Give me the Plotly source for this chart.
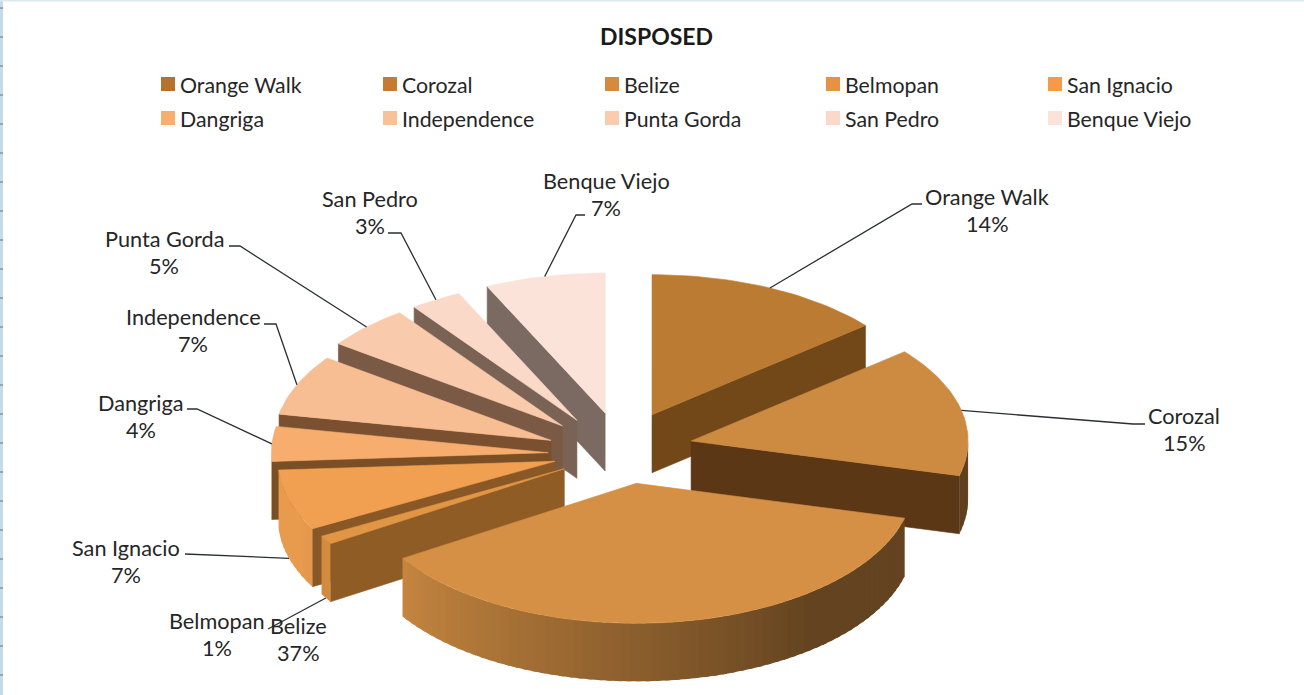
import math
import plotly.graph_objects as go

# ---- data ----
cities = ["Orange Walk", "Corozal", "Belize", "Belmopan", "San Ignacio",
          "Dangriga", "Independence", "Punta Gorda", "San Pedro", "Benque Viejo"]
shares = [14, 15, 37, 1, 7, 4, 7, 5, 3, 7]

# ---- style ----
top_colors = ["#BC7B33", "#CC8B41", "#D59045", "#E09645", "#F0A050",
              "#F6AD6E", "#F8BE93", "#F9CBAC", "#FBD9C8", "#FCE3DA"]
key_colors = ["#B5722D", "#C67B32", "#D68A3F", "#E59343", "#F59B47",
              "#F8AE6E", "#F9C197", "#FACBAE", "#FBD9C8", "#FCE3DA"]
side_colors = ["#724819", "#5C3715", "#6B4318", "#8F5C25", "#8A5826",
               "#7A4F25", "#7A5030", "#7A5A45", "#7A6355", "#7B6A62"]
draw_order = [9, 8, 7, 6, 5, 0, 1, 4, 3, 2]

W, H = 1304, 695
CX, CY = 620, 449
RX, RY = 277, 140
DEPTH = 58
EXPLODE = 0.263
TXT = "#262626"
FONT = "Lato"

# layout: small per-slice view corrections of the explosion (perspective of the original)
view_shift = [(1, -1), (0, 0), (5, -2), (7, 1), (5, 2), (1, 6), (-2, 6), (-6, 3), (-6, 3), (1, 0)]

# label placement: (centre x, first-line y), elbow path from the label
label_pos = [(987, 197), (1184, 416), (298, 626), (217, 621), (126, 548),
             (141, 403), (193, 317), (164, 239), (370, 199), (606, 181)]
leader_end = [[(912, 204), (922, 204)], [(1133, 424), (1145, 424)], None,
              [(268, 629)], [(185, 554)], [(197, 409), (187, 409)],
              [(276, 324), (264, 324)], [(240, 246), (229, 246)],
              [(401, 233), (388, 233)], [(576, 215), (585, 215)]]
key_cols = [161, 383, 605, 826, 1048]
key_rows = [84, 118]


def blend(hex_color, f):
    r, g, b = (int(hex_color[i:i + 2], 16) for i in (1, 3, 5))
    return "rgb(%d,%d,%d)" % (r * f, g * f, b * f)


def rim(apex, deg):
    a = math.radians(deg)
    return apex[0] + RX * math.sin(a), apex[1] - RY * math.cos(a)


def poly(fig, pts, color, edge=0.6):
    fig.add_trace(go.Scatter(
        x=[p[0] for p in pts] + [pts[0][0]], y=[p[1] for p in pts] + [pts[0][1]],
        mode="lines", fill="toself", fillcolor=color,
        line=dict(color=color, width=edge), hoverinfo="skip", showlegend=False))


def wall_shade(deg):
    if deg <= 140:
        return 0.47
    return min(0.97, 0.47 + 0.5 * (deg - 140) / 105)


# angles come from the shares
total = sum(shares)
bounds = [0.0]
for v in shares:
    bounds.append(bounds[-1] + 360.0 * v / total)

apexes = []
for i in range(len(shares)):
    m = math.radians((bounds[i] + bounds[i + 1]) / 2)
    apexes.append((CX + EXPLODE * RX * math.sin(m) + view_shift[i][0],
                   CY - EXPLODE * RY * math.cos(m) + view_shift[i][1]))

fig = go.Figure()

for i in draw_order:
    a0, a1 = bounds[i], bounds[i + 1]
    apex = apexes[i]
    down = (apex[0], apex[1] + DEPTH)
    # flat side walls facing the viewer
    if 0 < a1 < 180:
        c = rim(apex, a1)
        poly(fig, [apex, c, (c[0], c[1] + DEPTH), down], side_colors[i])
    if 180 < a0 < 360:
        c = rim(apex, a0)
        poly(fig, [apex, c, (c[0], c[1] + DEPTH), down], side_colors[i])
    # curved outer wall, shaded from dark (right) to light (left)
    lo, hi = max(a0, 90), min(a1, 270)
    if hi > lo:
        n = max(1, int((hi - lo) / 2.0))
        for k in range(n):
            s0 = lo + (hi - lo) * k / n
            s1 = min(hi, lo + (hi - lo) * (k + 1) / n + 1.0)   # overlap next segment
            p0, p1 = rim(apex, s0), rim(apex, s1)
            poly(fig, [p0, p1, (p1[0], p1[1] + DEPTH), (p0[0], p0[1] + DEPTH)],
                 blend(top_colors[i], wall_shade(s0)), edge=0)
    # top face
    n = max(2, int((a1 - a0) / 1.5))
    poly(fig, [apex] + [rim(apex, a0 + (a1 - a0) * k / n) for k in range(n + 1)], top_colors[i])

# leader lines start on the slice rim at its middle angle
for i, tail in enumerate(leader_end):
    if not tail:
        continue
    mid = (bounds[i] + bounds[i + 1]) / 2
    s = rim(apexes[i], mid)
    if 90 < mid < 270:
        s = (s[0], s[1] + DEPTH)
    pts = [s] + tail
    fig.add_trace(go.Scatter(x=[p[0] for p in pts], y=[p[1] for p in pts], mode="lines",
                             line=dict(color="#2B2F33", width=1.3),
                             hoverinfo="skip", showlegend=False))

# data labels
for i, (name, v) in enumerate(zip(cities, shares)):
    lx, ly = label_pos[i]
    for txt, yy in ((name, ly), ("%d%%" % v, ly + 27)):
        fig.add_annotation(x=lx, y=yy, text=txt, showarrow=False, xanchor="center", yanchor="middle",
                           font=dict(family=FONT, size=21.7, color=TXT))

# key
fig.add_trace(go.Scatter(
    x=[key_cols[i % 5] + 7 for i in range(10)],
    y=[key_rows[i // 5] for i in range(10)],
    mode="markers",
    marker=dict(symbol="square", size=14, color=key_colors, line=dict(width=0)),
    hoverinfo="skip", showlegend=False))
for i, c in enumerate(cities):
    fig.add_annotation(x=key_cols[i % 5] + 17, y=key_rows[i // 5] + 1, text=c, showarrow=False,
                       xanchor="left", yanchor="middle",
                       font=dict(family=FONT, size=21.3, color=TXT))

# title
fig.add_annotation(x=656, y=36, text="<b>DISPOSED</b>", showarrow=False,
                   font=dict(family=FONT, size=23, color="#1A1A1A"))

# window edge visible at the left of the reference
shapes = [dict(type="rect", xref="x", yref="y", x0=0, x1=3, y0=0, y1=H, fillcolor="#C5DCE8", line_width=0),
          dict(type="rect", xref="x", yref="y", x0=0, x1=W, y0=0, y1=1.5, fillcolor="#DCE9EE", line_width=0)]
for yy in range(8, H, 29):
    shapes.append(dict(type="line", xref="x", yref="y", x0=0, x1=3, y0=yy, y1=yy,
                       line=dict(color="#5F6E78", width=1)))

fig.update_layout(
    width=W, height=H, margin=dict(l=0, r=0, t=0, b=0),
    paper_bgcolor="#FFFFFF", plot_bgcolor="#FFFFFF", showlegend=False, shapes=shapes,
    xaxis=dict(range=[0, W], visible=False, fixedrange=True),
    yaxis=dict(range=[H, 0], visible=False, fixedrange=True),
)
fig.write_html("out.html", config={"displayModeBar": False},
               post_script="document.body.style.margin='0';document.body.style.overflow='hidden';")
